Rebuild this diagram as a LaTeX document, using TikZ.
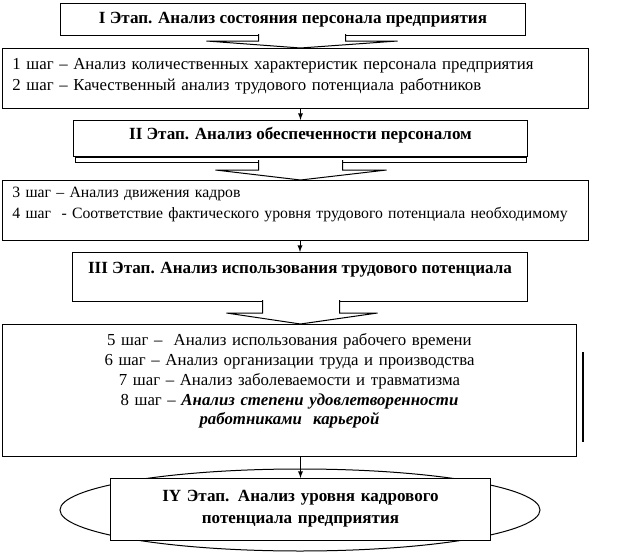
\documentclass[tikz,border=0pt]{standalone}
\usepackage{fontspec}
\setmainfont{Liberation Serif}
\usetikzlibrary{calc}

\begin{document}
\begin{tikzpicture}[x=0.75pt, y=-0.75pt, >=latex, line width=0.75pt,
    font=\fontsize{12.6}{15.75}\selectfont,
    stage/.style={draw, fill=white, inner sep=0pt, anchor=north west, align=center,
        font=\fontsize{12.8}{16.5}\selectfont\bfseries},
    steps/.style={draw, fill=white, inner ysep=0pt, inner xsep=7.5pt, anchor=north west}]
    \useasboundingbox (0,0) rectangle (626,554);

    % Этапы и шаги
    \node[stage, minimum width=348.75pt, text height=15pt, text depth=9pt] (s1) at (60,3)
        {I Этап. Анализ состояния персонала предприятия};
    \node[steps, text width=424.5pt, align=left, text height=15.4pt, text depth=29.6pt] (s2) at (2,48)
        {1 шаг – Анализ количественных характеристик персонала предприятия\\
         2 шаг – Качественный анализ трудового потенциала работников};
    \node[stage, minimum width=340.5pt, text height=14.6pt, text depth=12.4pt] (e2) at (73,120)
        {II Этап. Анализ обеспеченности персоналом};
    \node[steps, text width=424.5pt, align=left, text height=13.1pt, text depth=31.9pt,
        font=\fontsize{11.8}{15.75}\selectfont] (s3) at (2,180)
        {3 шаг – Анализ движения кадров\\
         4 шаг\ \ - Соответствие фактического уровня трудового потенциала необходимому};
    \node[stage, minimum width=341.25pt, text height=16.1pt, text depth=20.65pt] (e3) at (72,252)
        {III Этап. Анализ использования трудового потенциала};
    \node[steps, text width=415.5pt, align=center, text height=16.1pt, text depth=82.9pt,
        font=\fontsize{12.6}{14.8}\selectfont] (s4) at (2,324)
        {5 шаг –\ \ Анализ использования рабочего времени\\
         6 шаг – Анализ организации труда и производства\\
         7 шаг – Анализ заболеваемости и травматизма\\
         8 шаг – \textbf{\textit{Анализ степени удовлетворенности}}\\
         \textbf{\textit{работниками\ \ карьерой}}};
    \draw[line width=1.5pt] ($(s4.north east)+(6,28)$) -- ($(s4.south east)+(6,-15)$);

    \draw (300,510) ellipse [x radius=180pt, y radius=30.75pt];
    \node[stage, text width=285pt, text height=16.9pt, text depth=29.6pt] (e4) at (110,478)
        {IY Этап. Анализ уровня кадрового\\ потенциала предприятия};

    % Стрелки
    \coordinate (t1) at (e2.north |- s2.north);
    \coordinate (t2) at (e2.north |- s3.north);
    \coordinate (t3) at (e2.north |- s4.north);
    \draw[fill=white] ($(t1)+(-42,-14)$) -- ($(t1)+(-42,-7)$) -- ($(t1)+(-94,-7)$) -- (t1)
        -- ($(t1)+(97,-7)$) -- ($(t1)+(45,-7)$) -- ($(t1)+(45,-14)$);
    \draw ($(e2.south west)+(2,0)$) rectangle ($(e2.south east)+(-2,5)$);
    \draw[fill=white] ($(t2)+(-42,-20)$) -- ($(t2)+(-42,-10)$) -- ($(t2)+(-85,-10)$) -- (t2)
        -- ($(t2)+(86,-10)$) -- ($(t2)+(42,-10)$) -- ($(t2)+(42,-20)$);
    \draw[fill=white] ($(t3)+(-38,-24)$) -- ($(t3)+(-38,-11)$) -- ($(t3)+(-74,-11)$) -- (t3)
        -- ($(t3)+(77,-11)$) -- ($(t3)+(39,-11)$) -- ($(t3)+(39,-24)$);

    \draw[->] (e2.north |- s2.south) -- (e2.north);
    \draw[->] (e3.north |- s3.south) -- (e3.north);
    \draw[->] (e4.north |- s4.south) -- (e4.north);
\end{tikzpicture}
\end{document}
